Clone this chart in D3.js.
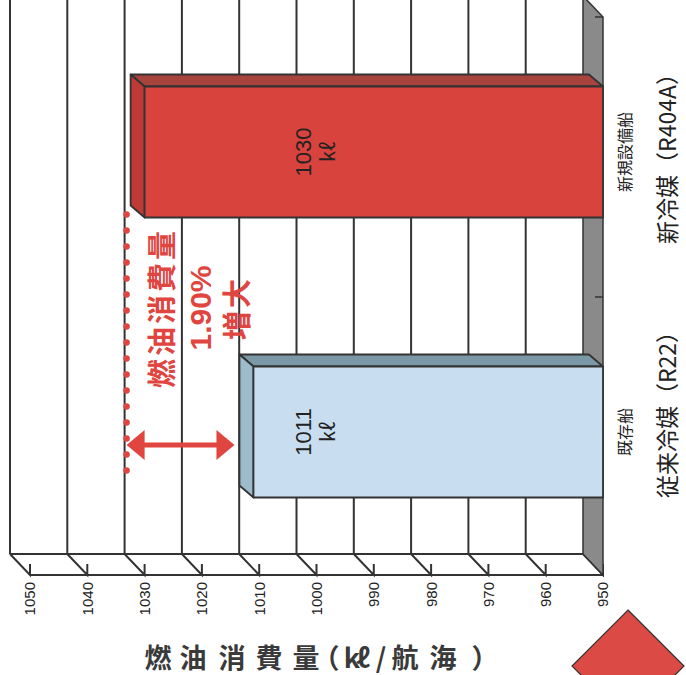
<!DOCTYPE html>
<html>
<head>
<meta charset="utf-8">
<script src="https://cdn.jsdelivr.net/npm/d3@7"></script>
<style>
    body { margin: 0; background: #fff; }
    svg { display: block; }
    .tick-label { font-family: "Liberation Sans", Arial, sans-serif; font-size: 15px; fill: #222; }
</style>
</head>
<body>
<div id="viz"></div>
<script>
/*##############################
#       Chart data             #
###############################*/
var categories = ['既存船', '新規設備船'];
var refrigerants = ['従来冷媒（R22）', '新冷媒（R404A）'];
var fuelUse = [1011, 1030];
var unitLabel = 'kℓ';
var tickValues = [1050, 1040, 1030, 1020, 1010, 1000, 990, 980, 970, 960, 950];
var axisTitle = '燃油消費量（kℓ/航海）';
var noteLines = ['燃油消費量', '1.90%', '増大'];

/*##############################
#       Setup                  #
###############################*/
const width = 686, height = 675;
const depth = {x: -20, y: -21};     // floor depth (front -> back)
const barDepth = {x: -14, y: -12};  // bar depth
const faceShift = -5;
const red = '#d8433e', line = '#333';
const jp = '"Noto Sans CJK JP", "Noto Sans", sans-serif';
const num = '"Liberation Sans", Arial, sans-serif';

const svg = d3.select('#viz').append('svg')
    .attr('width', width)
    .attr('height', height);

// value axis runs right to left (chart turned on its side)
var x = d3.scaleLinear().domain([950, 1050]).range([603, 30]);
var y = d3.scaleBand().domain(categories).range([577, 17])
    .paddingInner(0.532).paddingOuter(0.266);

const floorY = 575, backTop = -4;
const bx = function(v) { return x(v) + depth.x; };

/*##############################
#       Walls and grid         #
###############################*/
var grid = svg.append('g').attr('stroke', line).attr('stroke-width', 2).attr('fill', 'none');

grid.selectAll('.gl')
    .data(tickValues.filter(function(d) { return d > 950; }))
    .enter().append('line')
    .attr('x1', function(d) { return bx(d); })
    .attr('x2', function(d) { return bx(d); })
    .attr('y1', backTop)
    .attr('y2', floorY + depth.y);

grid.selectAll('.fl')
    .data(tickValues)
    .enter().append('path')
    .attr('d', function(d) {
        return 'M' + bx(d) + ',' + (floorY + depth.y) + 'L' + x(d) + ',' + floorY + 'L' + x(d) + ',' + (floorY - 11);
    });

grid.append('line')
    .attr('x1', bx(1050)).attr('x2', bx(950))
    .attr('y1', floorY + depth.y).attr('y2', floorY + depth.y);
grid.append('line')
    .attr('x1', x(1050)).attr('x2', x(950))
    .attr('y1', floorY).attr('y2', floorY);

// side wall at the 950 base
svg.append('path')
    .attr('d', 'M' + bx(950) + ',' + backTop + 'L' + x(950) + ',' + (backTop - depth.y) +
        'L' + x(950) + ',' + floorY + 'L' + bx(950) + ',' + (floorY + depth.y) + 'Z')
    .attr('fill', '#8a8a8a')
    .attr('stroke', line)
    .attr('stroke-width', 1.5);

// category ticks on the base
svg.selectAll('.ct')
    .data([17, 297])
    .enter().append('line')
    .attr('x1', x(950) - 8).attr('x2', x(950))
    .attr('y1', function(d) { return d; }).attr('y2', function(d) { return d; })
    .attr('stroke', line).attr('stroke-width', 1.5);

/*##############################
#       Bars                   #
###############################*/
var colors = [
    {front: '#c8ddef', top: '#7b98a6', side: '#9dbccb'},
    {front: red, top: '#a8433e', side: '#bd3a35'}
];

var bars = svg.append('g').selectAll('g')
    .data(fuelUse)
    .enter().append('g')
    .attr('stroke', line)
    .attr('stroke-width', 1.8)
    .attr('stroke-linejoin', 'round');

bars.append('path')
    .attr('fill', function(d, i) { return colors[i].top; })
    .attr('d', function(d, i) {
        var x0 = x(d), x1 = x(950), y0 = y(categories[i]) + faceShift;
        return 'M' + x0 + ',' + y0 + 'L' + (x0 + barDepth.x) + ',' + (y0 + barDepth.y) +
            'L' + (x1 + barDepth.x) + ',' + (y0 + barDepth.y) + 'L' + x1 + ',' + y0 + 'Z';
    });
bars.append('path')
    .attr('fill', function(d, i) { return colors[i].side; })
    .attr('d', function(d, i) {
        var x0 = x(d), y0 = y(categories[i]) + faceShift, y1 = y0 + y.bandwidth();
        return 'M' + x0 + ',' + y0 + 'L' + (x0 + barDepth.x) + ',' + (y0 + barDepth.y) +
            'L' + (x0 + barDepth.x) + ',' + (y1 + barDepth.y) + 'L' + x0 + ',' + y1 + 'Z';
    });
bars.append('rect')
    .attr('fill', function(d, i) { return colors[i].front; })
    .attr('x', function(d) { return x(d); })
    .attr('width', function(d) { return x(950) - x(d); })
    .attr('y', function(d, i) { return y(categories[i]) + faceShift; })
    .attr('height', y.bandwidth());

// value labels (turned with the chart)
var vl = svg.selectAll('.vl')
    .data(fuelUse)
    .enter().append('text')
    .attr('transform', function(d, i) {
        return 'translate(' + (x(1000) - 13) + ',' + (y(categories[i]) + faceShift + y.bandwidth() / 2) + ') rotate(-90)';
    })
    .attr('text-anchor', 'middle')
    .attr('font-family', num)
    .attr('font-size', 22)
    .attr('fill', '#222');
vl.append('tspan').attr('x', 0).attr('dy', '0.35em').text(function(d) { return d; });
vl.append('tspan').attr('x', 0).attr('dy', '1.2em').attr('font-family', jp).attr('font-size', 20).text(unitLabel);

/*##############################
#       Axis labels            #
###############################*/
svg.selectAll('.tl')
    .data(tickValues)
    .enter().append('text')
    .attr('class', 'tick-label')
    .attr('transform', function(d) { return 'translate(' + x(d) + ',' + (floorY + 7) + ') rotate(-90)'; })
    .attr('text-anchor', 'end')
    .attr('dy', '0.36em')
    .text(function(d) { return d; });

// title, one glyph at a time to keep the wide spacing
var titleX = [158, 193, 232, 269, 306, 326, 352, 363, 381, 405, 443, 485];
svg.append('text')
    .attr('x', titleX.join(' ')).attr('y', 656)
    .attr('text-anchor', 'middle')
    .attr('dominant-baseline', 'central')
    .attr('font-family', jp)
    .attr('font-size', 27)
    .attr('font-weight', 'bold')
    .attr('fill', '#3a3a3a')
    .text(axisTitle);

var catY = [432, 152], refY = [409, 153];
categories.forEach(function(c, i) {
    svg.append('text')
        .attr('transform', 'translate(625,' + catY[i] + ') rotate(-90)')
        .attr('text-anchor', 'middle').attr('dy', '0.35em')
        .attr('font-family', jp).attr('font-size', 16)
        .attr('fill', '#222')
        .text(c);
    svg.append('text')
        .attr('transform', 'translate(668,' + refY[i] + ') rotate(-90)')
        .attr('text-anchor', 'middle').attr('dy', '0.35em')
        .attr('font-family', jp).attr('font-size', 23)
        .attr('fill', '#222')
        .text(refrigerants[i]);
});

/*##############################
#       Increase note          #
###############################*/
var redBottom = y(categories[1]) + faceShift + y.bandwidth();
var arrowY = 445;
svg.append('g').attr('fill', '#e0453f')
    .selectAll('circle')
    .data(d3.range(redBottom - 3, 475, 16))
    .enter().append('circle')
    .attr('cx', bx(fuelUse[1]) + 2)
    .attr('cy', function(d) { return d; })
    .attr('r', 3.2);

var ax0 = bx(fuelUse[1]) + 2, ax1 = x(fuelUse[0]) + barDepth.x - 5;
var hl = 18, hw = 15, sw = 2.6;
svg.append('path')
    .attr('fill', '#e0453f')
    .attr('d', 'M' + ax0 + ',' + arrowY +
        'L' + (ax0 + hl) + ',' + (arrowY - hw) + 'L' + (ax0 + hl) + ',' + (arrowY - sw) +
        'L' + (ax1 - hl) + ',' + (arrowY - sw) + 'L' + (ax1 - hl) + ',' + (arrowY - hw) +
        'L' + ax1 + ',' + arrowY +
        'L' + (ax1 - hl) + ',' + (arrowY + hw) + 'L' + (ax1 - hl) + ',' + (arrowY + sw) +
        'L' + (ax0 + hl) + ',' + (arrowY + sw) + 'L' + (ax0 + hl) + ',' + (arrowY + hw) + 'Z');

var noteX = [163, 200, 238];
noteLines.forEach(function(t, i) {
    svg.append('text')
        .attr('transform', 'translate(' + noteX[i] + ',308) rotate(-90)')
        .attr('text-anchor', 'middle').attr('dy', '0.35em')
        .attr('font-family', i == 1 ? num : jp)
        .attr('font-size', i == 1 ? 30 : 29)
        .attr('font-weight', 'bold')
        .attr('letter-spacing', i == 1 ? 0 : 3)
        .attr('fill', '#e0453f')
        .text(t);
});

// red corner mark
svg.append('path')
    .attr('d', 'M628,610L684,666L628,722L572,666Z')
    .attr('fill', '#dc4a45')
    .attr('stroke', line)
    .attr('stroke-width', 1.2);
</script>
</body>
</html>
